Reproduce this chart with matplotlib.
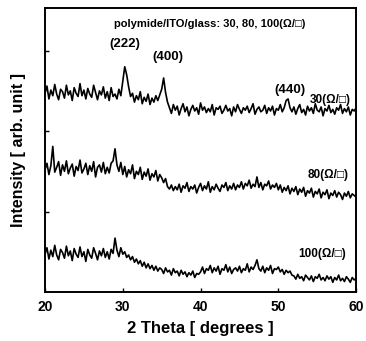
import matplotlib
matplotlib.use('Agg')
import matplotlib.pyplot as plt
import numpy as np

# XRD intensities (arb. units x100), 2theta 20..60 step 0.25
i_30 = [247, 256, 240, 251, 244, 258, 246, 239, 252, 249,
        241, 257, 245, 250, 238, 254, 247, 243, 259, 244,
        251, 240, 253, 246, 242, 257, 248, 239, 250, 245,
        255, 241,
        249, 238, 254, 243, 246, 240, 252, 244,
        262, 280, 270, 255, 243,
        247, 236, 244, 239, 249, 234, 242, 237, 246, 233, 241, 236, 244, 238, 245,
        252, 266, 248, 236,
        229, 222, 233, 226, 231, 220, 228, 234, 224, 230,
        219, 227, 232, 225, 229, 221, 235, 226, 230, 223,
        228, 224, 233, 220, 229, 227, 231, 222, 226, 232,
        225, 228, 219, 230, 224, 233, 227, 222, 229, 226,
        231, 223, 228, 234, 221, 227, 230, 224, 226, 232,
        222, 229, 225, 231, 220, 228, 226, 233, 224, 229,
        238, 240, 229,
        224, 230, 221, 228, 233, 223, 227, 220, 231, 225,
        229, 222, 234, 226, 224, 230, 219, 228, 225, 232,
        223, 227, 221, 229, 226, 233, 222, 228, 224, 230,
        220, 227, 225, 229]

i_80 = [152, 160, 146, 157, 181, 149, 155, 162, 145, 158,
        150, 163, 147, 154, 159, 144, 156, 151, 164, 148,
        153, 160, 146, 157, 150, 162, 143, 155, 158, 149,
        161, 147,
        155, 148, 160, 163, 178, 158, 150, 161, 146,
        156, 143, 152, 147, 158, 141, 150, 146, 155, 140,
        149, 144, 153, 139, 147, 143, 151, 138, 146,
        142, 136, 141, 131, 128, 133, 126, 131,
        127, 134, 124, 132, 129, 136, 125, 131, 128, 133,
        123, 130, 135, 126, 132, 128, 137, 124, 131, 127,
        134, 129, 125, 133, 130, 136, 126, 132, 128, 135,
        127, 133,
        130, 137, 128, 135, 132, 139, 129, 134, 131, 143,
        130, 136, 127, 134, 132, 138, 128, 133, 130, 135,
        127, 133, 124, 130, 126, 132, 122, 129, 125, 131,
        121, 128, 124, 130, 119, 126, 123, 129, 118, 125,
        122, 128, 117, 124, 121, 127, 116, 123, 120, 126,
        118, 124, 121, 115, 123, 119, 125, 117, 122, 120, 118]

i_100 = [47, 55, 41, 52, 44, 58, 46, 40, 53, 49,
         42, 57, 45, 51, 39, 54, 47, 43, 56, 44,
         50, 38, 53, 46, 42, 55, 48, 40, 51, 45,
         54, 43,
         50, 41, 53, 48, 67, 52, 44, 55, 47,
         50, 43, 46, 40, 44, 37, 41, 35, 39, 32,
         37, 30, 35, 29, 33, 27, 32, 26, 30,
         28, 23, 30, 25, 27, 21, 29, 24, 26, 20,
         27, 22, 25, 19, 24, 21, 26, 18, 23, 22,
         25, 31, 23, 29, 27, 33, 24, 30, 26, 32,
         22, 29, 27, 34, 25, 31, 23, 28, 30, 26,
         32, 24, 29, 27, 35, 25, 31, 28, 33, 40,
         29, 26, 32, 24, 30, 27, 33, 23, 29, 28,
         31, 25, 28, 22, 27, 24, 26, 21,
         20, 16, 22, 17, 19, 14, 21, 18, 15, 20,
         13, 19, 17, 22, 15, 18, 14, 20, 16, 19,
         12, 18, 15, 21, 14, 17, 13, 19, 16, 12, 18, 15, 17]

two_theta = np.linspace(20, 60, len(i_30))

plt.rcParams['font.family'] = ['Liberation Sans', 'DejaVu Sans']
plt.rcParams['font.weight'] = 'bold'

fig = plt.figure(figsize=(3.66, 3.41), dpi=100)
ax = fig.add_axes([0.123, 0.1437, 0.850, 0.8328])

for trace in (i_30, i_80, i_100):
    ax.plot(two_theta, np.array(trace) / 100.0, color='black', lw=1.2)

ax.set_xlim(20, 60)
ax.set_ylim(0, 3.53)
ax.set_xticks([20, 30, 40, 50, 60])
ax.set_yticks([1, 2, 3])
ax.set_yticklabels([])
ax.tick_params(direction='in', length=3, width=1, labelsize=10, pad=6)
for lab in ax.get_xticklabels():
    lab.set_fontweight('bold')
for s in ax.spines.values():
    s.set_linewidth(1.4)

ax.set_xlabel('2 Theta [ degrees ]', fontsize=12, fontweight='bold', labelpad=5)
ax.set_ylabel('Intensity [ arb. unit ]', fontsize=11.5, fontweight='bold', labelpad=8)

ax.text(41.2, 3.33, 'polymide/ITO/glass: 30, 80, 100(\u03a9/\u25a1)', fontsize=8,
        ha='center', va='center', fontweight='bold')
ax.text(30.2, 3.08, '(222)', fontsize=9.5, ha='center', va='center', fontweight='bold')
ax.text(35.8, 2.92, '(400)', fontsize=9.5, ha='center', va='center', fontweight='bold')
ax.text(51.5, 2.51, '(440)', fontsize=9.5, ha='center', va='center', fontweight='bold')
ax.text(56.7, 2.39, '30(\u03a9/\u25a1)', fontsize=8.5, ha='center', va='center')
ax.text(56.4, 1.46, '80(\u03a9/\u25a1)', fontsize=8.5, ha='center', va='center')
ax.text(55.6, 0.47, '100(\u03a9/\u25a1)', fontsize=8.5, ha='center', va='center')

fig.savefig('out.png', dpi=100)
